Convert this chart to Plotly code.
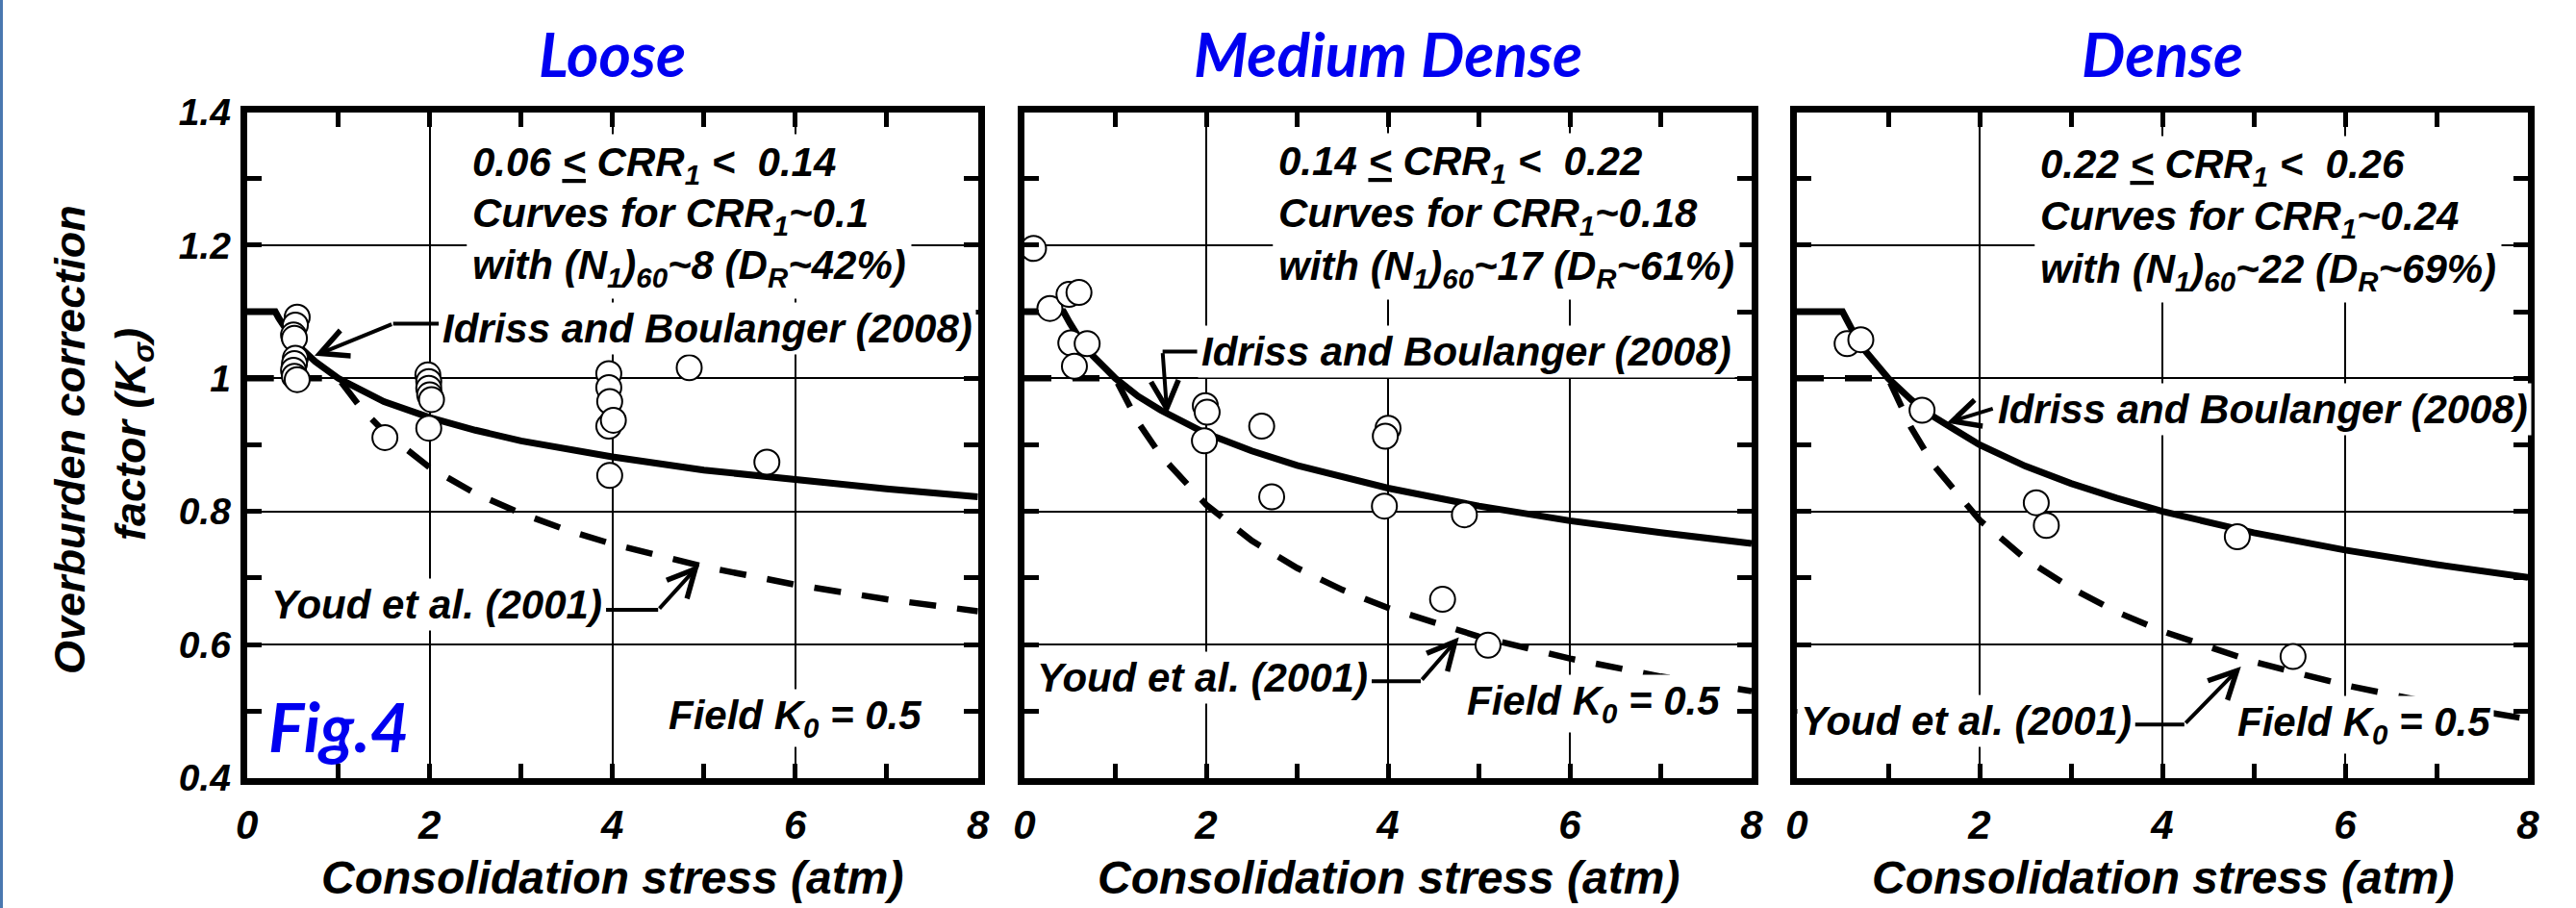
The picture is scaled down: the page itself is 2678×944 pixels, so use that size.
import plotly.graph_objects as go

# ---------------- data ----------------
panels = ["Loose", "Medium Dense", "Dense"]
x_ticks = [0, 2, 4, 6, 8]

# measured points (consolidation stress, K_sigma)
loose_x = [0.55, 0.53, 0.51, 0.52, 0.53, 0.52, 0.51, 0.52, 0.55,
           1.51, 1.98, 1.99, 1.99, 2.0, 2.02, 1.99,
           3.96, 3.96, 3.97, 3.96, 4.01, 3.97, 4.84, 5.69]
loose_y = [1.092, 1.08, 1.065, 1.06, 1.03, 1.022, 1.012, 1.003, 0.998,
           0.911, 1.005, 0.995, 0.985, 0.975, 0.968, 0.925,
           1.007, 0.986, 0.965, 0.928, 0.937, 0.854, 1.016, 0.874]

med_x = [0.1, 0.28, 0.49, 0.6, 0.51, 0.69, 0.55, 1.99, 2.01, 1.98, 2.61,
         4.0, 3.97, 2.72, 3.96, 4.84, 4.6, 5.1]
med_y = [1.195, 1.105, 1.126, 1.129, 1.053, 1.052, 1.018, 0.959, 0.949, 0.906, 0.928,
         0.925, 0.913, 0.822, 0.808, 0.795, 0.668, 0.599]

dense_x = [0.55, 0.7, 1.37, 2.62, 2.73, 4.82, 5.43]
dense_y = [1.052, 1.058, 0.952, 0.813, 0.779, 0.762, 0.582]

# Idriss and Boulanger (2008) curves
ib_loose_x = [0, 0.31, 0.35, 0.4, 0.5, 0.6, 0.75, 1, 1.5, 2, 2.5, 3, 3.5, 4, 5, 6, 7, 8]
ib_loose_y = [1.1, 1.1, 1.09, 1.078, 1.059, 1.044, 1.025, 1.0, 0.965, 0.941, 0.922, 0.906,
              0.893, 0.882, 0.862, 0.847, 0.834, 0.822]
ib_med_x = [0, 0.43, 0.5, 0.6, 0.75, 1, 1.25, 1.5, 2, 2.5, 3, 3.5, 4, 5, 6, 7, 8]
ib_med_y = [1.1, 1.1, 1.083, 1.061, 1.034, 1.0, 0.973, 0.952, 0.917, 0.891, 0.869, 0.851,
            0.835, 0.808, 0.786, 0.768, 0.752]
ib_dense_x = [0, 0.5, 0.6, 0.75, 1, 1.25, 1.5, 2, 2.5, 3, 3.5, 4, 5, 6, 7, 8]
ib_dense_y = [1.1, 1.1, 1.074, 1.041, 1.0, 0.968, 0.942, 0.9, 0.868, 0.842, 0.82, 0.8,
              0.768, 0.742, 0.72, 0.701]

# Youd et al. (2001) curves
youd_x = [0, 1, 1.25, 1.5, 2, 2.5, 3, 3.5, 4, 5, 6, 7, 8]
youd_loose_y = [1.0, 1.0, 0.955, 0.92, 0.866, 0.827, 0.797, 0.772, 0.751, 0.717, 0.69, 0.668, 0.65]
youd_med_y = [1.0, 1.0, 0.934, 0.884, 0.81, 0.756, 0.715, 0.682, 0.655, 0.612, 0.579, 0.552, 0.53]
youd_dense_y = [1.0, 1.0, 0.926, 0.869, 0.787, 0.729, 0.685, 0.649, 0.62, 0.574, 0.539, 0.511, 0.488]

box_lines = [
    ["0.06 <u>&lt;</u> CRR<sub>1</sub> &lt;&nbsp; 0.14", "Curves for CRR<sub>1</sub>~0.1",
     "with (N<sub>1</sub>)<sub>60</sub>~8 (D<sub>R</sub>~42%)"],
    ["0.14 <u>&lt;</u> CRR<sub>1</sub> &lt;&nbsp; 0.22", "Curves for CRR<sub>1</sub>~0.18",
     "with (N<sub>1</sub>)<sub>60</sub>~17 (D<sub>R</sub>~61%)"],
    ["0.22 <u>&lt;</u> CRR<sub>1</sub> &lt;&nbsp; 0.26", "Curves for CRR<sub>1</sub>~0.24",
     "with (N<sub>1</sub>)<sub>60</sub>~22 (D<sub>R</sub>~69%)"],
]

# ---------------- styling ----------------
W, H = 2678, 944
TXT = "Liberation Sans, Arial, sans-serif"
BLUE_FONT = "Lato, Carlito, Calibri, sans-serif"
BLUE = "#0000F0"
ANN = 42

def bi(size, color="black", family=TXT):
    return dict(family=family, size=size, color=color, weight="bold", style="italic")

x_dom = [(256.7 / W, 1016.7 / W), (1065 / W, 1821 / W), (1868 / W, 2628 / W)]
y_dom = (1 - 808.5 / H, 1 - 116.5 / H)

fig = go.Figure()

series = [
    (loose_x, loose_y, ib_loose_x, ib_loose_y, youd_loose_y),
    (med_x, med_y, ib_med_x, ib_med_y, youd_med_y),
    (dense_x, dense_y, ib_dense_x, ib_dense_y, youd_dense_y),
]
for i, (px, py, ix, iy, yy) in enumerate(series):
    xa = "x" if i == 0 else f"x{i+1}"
    ya = "y" if i == 0 else f"y{i+1}"
    fig.add_trace(go.Scatter(x=youd_x, y=yy, mode="lines", xaxis=xa, yaxis=ya,
                             line=dict(color="black", width=6.5, dash="28px,22px"),
                             showlegend=False, hoverinfo="skip"))
    fig.add_trace(go.Scatter(x=ix, y=iy, mode="lines", xaxis=xa, yaxis=ya,
                             line=dict(color="black", width=7),
                             showlegend=False, hoverinfo="skip"))
    fig.add_trace(go.Scatter(x=px, y=py, mode="markers", xaxis=xa, yaxis=ya,
                             marker=dict(symbol="circle", size=26, color="white",
                                         line=dict(color="black", width=2)),
                             showlegend=False, hoverinfo="skip"))

axis_common = dict(
    showline=True, linecolor="black", linewidth=7, mirror="allticks",
    ticks="inside", ticklen=15, tickwidth=5, tickcolor="black",
    showgrid=True, gridcolor="black", gridwidth=2, zeroline=False,
    automargin=False,
)
for i in range(3):
    xk = "xaxis" if i == 0 else f"xaxis{i+1}"
    yk = "yaxis" if i == 0 else f"yaxis{i+1}"
    ya = "y" if i == 0 else f"y{i+1}"
    xa = "x" if i == 0 else f"x{i+1}"
    fig.update_layout({
        xk: dict(axis_common, domain=list(x_dom[i]), range=[0, 8], tickvals=x_ticks,
                 anchor=ya, tickfont=bi(42), ticklabelstandoff=6,
                 minor=dict(dtick=1, ticks="inside", ticklen=15, tickwidth=5,
                            tickcolor="black", showgrid=False)),
        yk: dict(axis_common, domain=list(y_dom), range=[0.4, 1.4], dtick=0.2,
                 anchor=xa, tickfont=bi(39), showticklabels=(i == 0), ticklabelstandoff=2,
                 minor=dict(dtick=0.1, ticks="inside", ticklen=15, tickwidth=5,
                            tickcolor="black", showgrid=False)),
    })

ann = []
shapes = []

def A(**kw):
    ann.append(kw)

# titles and x-axis titles
for i, name in enumerate(panels):
    cx = (x_dom[i][0] + x_dom[i][1]) / 2
    A(text=name, x=cx, y=1 - 55 / H, xref="paper", yref="paper", showarrow=False,
      xanchor="center", yanchor="middle", font=bi(64, BLUE, BLUE_FONT))
    A(text="Consolidation stress (atm)", x=cx, y=1 - 912 / H, xref="paper", yref="paper",
      showarrow=False, xanchor="center", yanchor="middle", font=bi(48))

# y-axis title (two lines)
A(text="Overburden correction", x=72 / W, y=1 - 457 / H, xref="paper", yref="paper",
  showarrow=False, textangle=-90, xanchor="center", yanchor="middle", font=bi(45))
A(text="factor (K<sub>σ</sub>)", x=138 / W, y=1 - 452 / H, xref="paper", yref="paper",
  showarrow=False, textangle=-90, xanchor="center", yanchor="middle", font=bi(45))

box_pos = [(2.40, [1.320, 1.244, 1.166]), (2.73, [1.322, 1.244, 1.164]),
           (2.60, [1.318, 1.240, 1.160])]

for i in range(3):
    xr = "x" if i == 0 else f"x{i+1}"
    yr = "y" if i == 0 else f"y{i+1}"
    bx, bys = box_pos[i]
    for t, by in zip(box_lines[i], bys):
        A(text=t, x=bx, y=by, xref=xr, yref=yr, showarrow=False, xanchor="left",
          yanchor="middle", font=bi(ANN), bgcolor="white", borderpad=5)

def label(i, text, x, y, xanchor):
    xr = "x" if i == 0 else f"x{i+1}"
    yr = "y" if i == 0 else f"y{i+1}"
    A(text=text, x=x, y=y, xref=xr, yref=yr, showarrow=False, xanchor=xanchor,
      yanchor="middle", font=bi(ANN), bgcolor="white", borderpad=3)

def arrow(i, x0, y0, x1, y1):
    xr = "x" if i == 0 else f"x{i+1}"
    yr = "y" if i == 0 else f"y{i+1}"
    A(text="", x=x1, y=y1, ax=x0, ay=y0, xref=xr, yref=yr, axref=xr, ayref=yr,
      showarrow=True, arrowhead=5, arrowsize=1.4, arrowwidth=4, arrowcolor="black")

def seg(i, x0, y0, x1, y1):
    xr = "x" if i == 0 else f"x{i+1}"
    yr = "y" if i == 0 else f"y{i+1}"
    shapes.append(dict(type="line", x0=x0, y0=y0, x1=x1, y1=y1, xref=xr, yref=yr,
                       line=dict(color="black", width=4)))

IB = "Idriss and Boulanger (2008)"
YD = "Youd et al. (2001)"
FK = "Field K<sub>0</sub> = 0.5"

# panel 1
label(0, IB, 2.1, 1.075, "left")
seg(0, 2.1, 1.082, 1.6, 1.082)
arrow(0, 1.6, 1.082, 0.74, 1.034)
label(0, YD, 3.93, 0.66, "right")
seg(0, 3.93, 0.652, 4.5, 0.652)
arrow(0, 4.5, 0.652, 4.95, 0.72)
label(0, FK, 6.0, 0.49, "center")
A(text="Fig.4", x=1.0, y=0.478, xref="x", yref="y", showarrow=False, xanchor="center",
  yanchor="middle", font=bi(70, BLUE, BLUE_FONT))

# panel 2
label(1, IB, 1.9, 1.04, "left")
seg(1, 1.9, 1.04, 1.52, 1.04)
arrow(1, 1.52, 1.04, 1.57, 0.946)
label(1, YD, 3.82, 0.55, "right")
seg(1, 3.82, 0.545, 4.36, 0.545)
arrow(1, 4.36, 0.545, 4.78, 0.611)
label(1, FK, 6.26, 0.511, "center")

# panel 3
label(2, IB, 2.16, 0.953, "left")
arrow(2, 2.16, 0.955, 1.64, 0.933)
label(2, YD, 3.7, 0.485, "right")
seg(2, 3.7, 0.48, 4.24, 0.48)
arrow(2, 4.24, 0.48, 4.86, 0.567)
label(2, FK, 6.2, 0.48, "center")

# slide border on the left edge
shapes.append(dict(type="line", x0=1.5 / W, x1=1.5 / W, y0=0, y1=1, xref="paper", yref="paper",
                   line=dict(color="#4a78b0", width=3)))

fig.update_layout(
    width=W, height=H, margin=dict(l=0, r=0, t=0, b=0),
    paper_bgcolor="white", plot_bgcolor="white",
    annotations=ann, shapes=shapes, hovermode=False, showlegend=False,
)

fig.write_html("out.html")
